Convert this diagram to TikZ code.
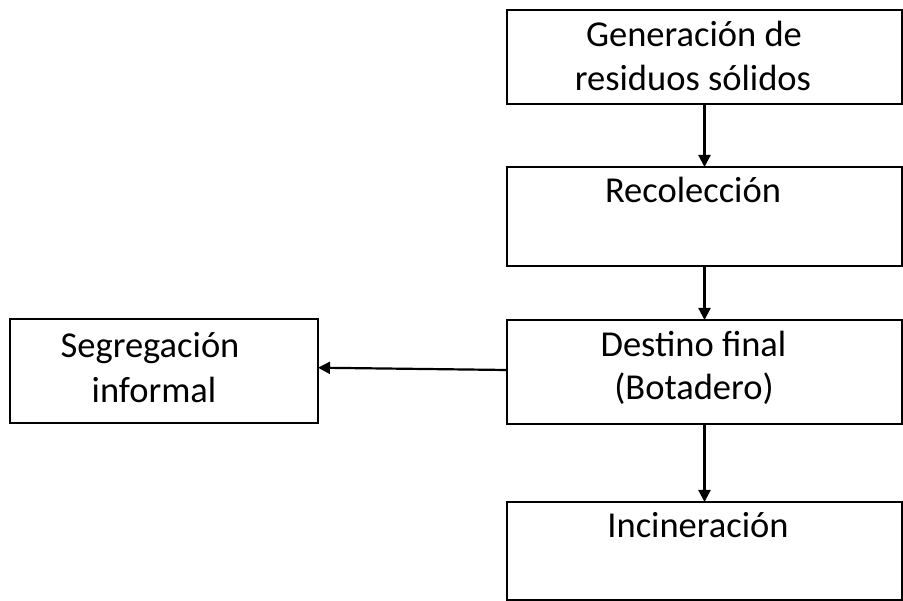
\documentclass[tikz,border=0pt]{standalone}
\usepackage{fontspec}
\setmainfont{Carlito}
\usetikzlibrary{arrows.meta}
\begin{document}
\begin{tikzpicture}[x=1pt,y=-1pt,
  boxnode/.style={draw,line width=2.6pt,inner sep=0pt,outer sep=0pt},
  txt/.style={anchor=base,inner sep=0pt,font=\fontsize{36.5}{42}\selectfont},
  arr/.style={line width=2.2pt,-{Triangle[length=12pt,width=12pt]}}]
\useasboundingbox (0,0) rectangle (903,601);
\node[boxnode,minimum width=395pt,minimum height=94pt] (b1) at (704.5,57) {};
\node[boxnode,minimum width=395pt,minimum height=99pt] (b2) at (704.5,216.5) {};
\node[boxnode,minimum width=395pt,minimum height=104pt] (b3) at (704.5,372) {};
\node[boxnode,minimum width=395pt,minimum height=98pt] (b4) at (704.5,551) {};
\node[boxnode,minimum width=308pt,minimum height=104pt] (b5) at (164,371) {};
\node[txt] (t1a) at (694,46.5) {Generación de};
\node[txt] (t1b) at (693,90.5) {residuos sólidos};
\node[txt] (t2) at (693,203) {Recolección};
\node[txt] (t3a) at (693.5,356.5) {Destino final};
\node[txt] (t3b) at (694,400) {(Botadero)};
\node[txt] (t4) at (698,538) {Incineración};
\node[txt] (t5a) at (150,358) {Segregación};
\node[txt] (t5b) at (154,402.5) {informal};
\draw[arr] (b1.south) -- (b2.north);
\draw[arr] (b2.south) -- (b3.north);
\draw[arr] (b3.south) -- (b4.north);
\draw[arr] ([yshift=2pt]b3.west) -- ([yshift=3.3pt]b5.east);
\end{tikzpicture}
\end{document}
